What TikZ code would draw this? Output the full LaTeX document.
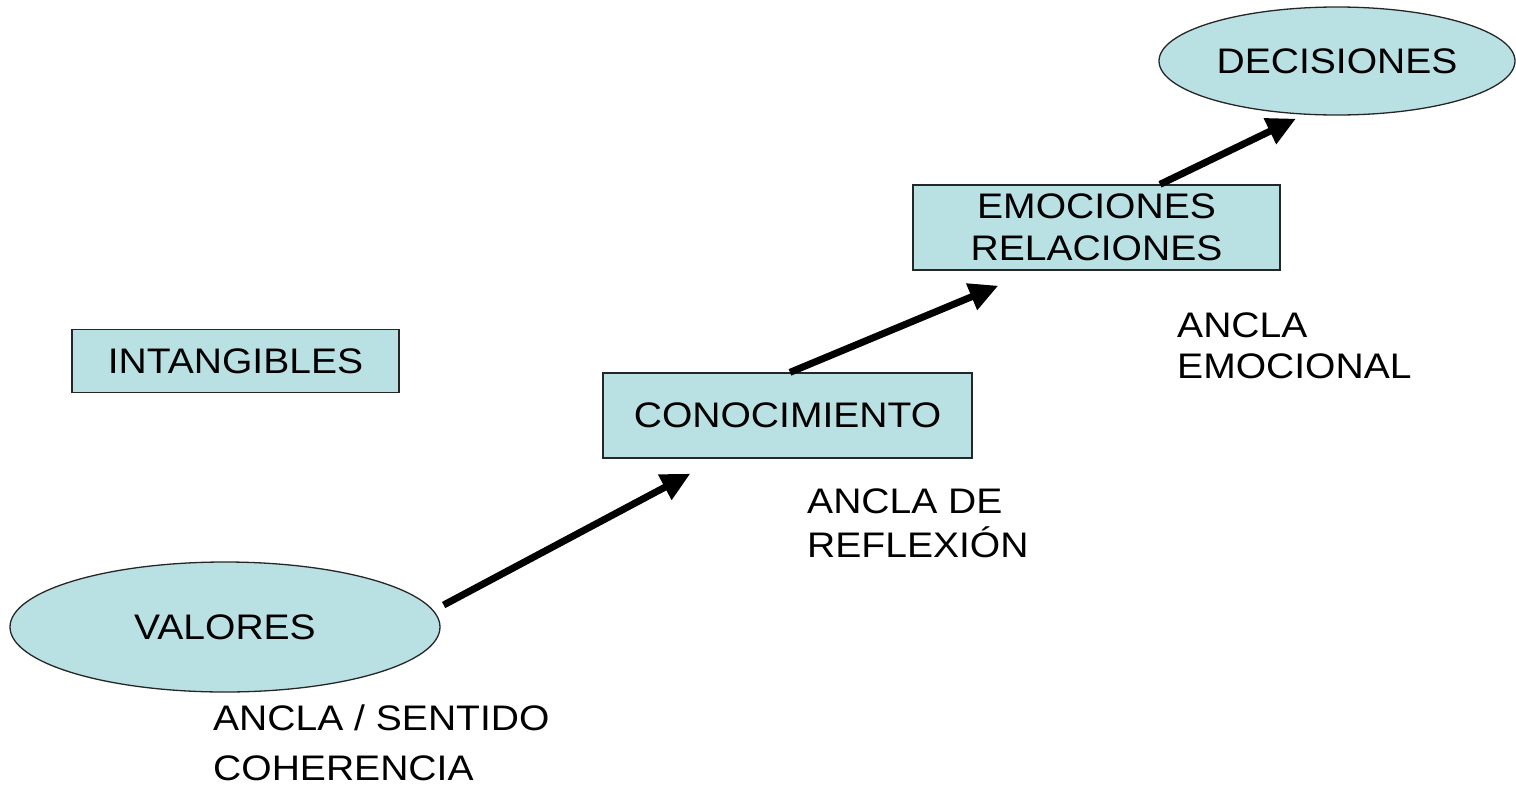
\documentclass[tikz,border=0pt]{standalone}
\usepackage{fontspec}
\setmainfont{Liberation Sans}[FakeStretch=1.1]
\usetikzlibrary{arrows.meta,shapes.geometric,calc}
\definecolor{boxfill}{RGB}{185,224,227}
\begin{document}
\begin{tikzpicture}[x=1pt,y=-1pt,
  every node/.style={font=\fontsize{35.5}{42}\selectfont, text=black},
  rbox/.style={draw=black!85, line width=1.3pt, fill=boxfill, rectangle, inner sep=0pt, align=center},
  ebox/.style={draw=black!85, line width=1.3pt, fill=boxfill, ellipse, inner sep=0pt},
  lbl/.style={anchor=base west, inner sep=0pt},
  arr/.style={line width=7pt, -{Triangle[length=29pt,width=27pt]}}]
\useasboundingbox (0,0) rectangle (1516,785);
% shapes
\node[ebox, minimum width=430pt, minimum height=130pt] (val) at (225,627) {VALORES};
\node[rbox, minimum width=327pt, minimum height=63pt] (int) at (235.5,361) {INTANGIBLES};
\node[rbox, minimum width=369pt, minimum height=85pt] (con) at (787.5,415.5) {CONOCIMIENTO};
\node[rbox, minimum width=367pt, minimum height=85pt] (emo) at (1096.5,227.5) {EMOCIONES\\RELACIONES};
\node[ebox, minimum width=356pt, minimum height=108pt] (dec) at (1337,61) {DECISIONES};
% labels
\node[lbl] (l1a) at (213,730) {ANCLA / SENTIDO};
\node[lbl] (l1b) at (213,780) {COHERENCIA};
\node[lbl] (l2a) at (807,513) {ANCLA DE};
\node[lbl] (l2b) at (807,557) {REFLEXIÓN};
\node[lbl] (l3a) at (1177,337) {ANCLA};
\node[lbl] (l3b) at (1177,378) {EMOCIONAL};
% arrow ends
\coordinate (a1s) at ($(val.east)+(3,-22)$);
\coordinate (a1e) at ($(con.south west)+(88,15)$);
\coordinate (a2s) at ($(con.north)+(2.5,0)$);
\coordinate (a2e) at ($(emo.south west)+(86,15)$);
\coordinate (a3s) at ($(emo.north)+(63.5,0)$);
\coordinate (a3e) at ($(dec.south)+(-41,3)$);
\draw[arr] (a1s) -- (a1e);
\draw[arr] (a2s) -- (a2e);
\draw[arr] (a3s) -- (a3e);
\end{tikzpicture}
\end{document}
